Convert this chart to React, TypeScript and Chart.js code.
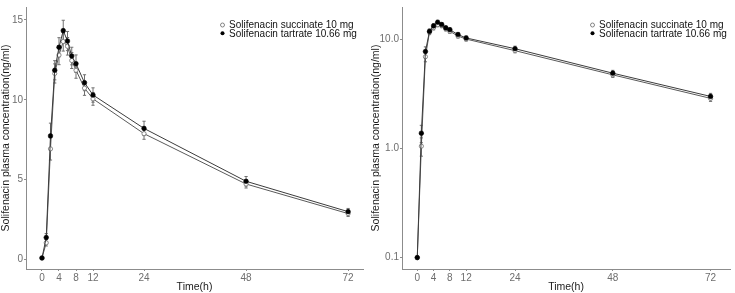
import React, { useEffect, useRef } from 'react';
import { Chart, registerables } from 'chart.js';

Chart.register(...registerables);

const timePoints = [0, 1, 2, 3, 4, 5, 6, 7, 8, 10, 12, 24, 48, 72];
const succinateMean = [0.1, 1.05, 6.93, 11.65, 12.8, 13.65, 13.35, 12.46, 11.85, 10.73, 10.06, 7.88, 4.73, 2.88];
const succinateErr = [0, 0.2, 0.7, 0.6, 0.6, 0.6, 0.55, 0.5, 0.5, 0.45, 0.4, 0.35, 0.25, 0.18];
const tartrateMean = [0.1, 1.38, 7.74, 11.85, 13.29, 14.33, 13.68, 12.74, 12.26, 11.07, 10.3, 8.21, 4.9, 3.0];
const tartrateErr = [0, 0.25, 0.8, 0.6, 0.6, 0.65, 0.6, 0.55, 0.55, 0.5, 0.45, 0.45, 0.3, 0.2];
const seriesNames = ['Solifenacin succinate 10 mg', 'Solifenacin tartrate 10.66 mg'];
const xTicks = [0, 4, 8, 12, 24, 48, 72];
const linearYTicks = [0, 5, 10, 15];
const logYTicks = [0.1, 1, 10];
const logYTickLabels = ['0.1', '1.0', '10.0'];
const xTitle = 'Time(h)';
const yTitle = 'Solifenacin plasma concentration(ng/ml)';

const FONT = "'Liberation Sans', Arial, sans-serif";
const AXIS = '#8c8c8c';
const TICKTXT = '#6e6e6e';

const errorBarPlugin = {
  id: 'errorBars',
  beforeDatasetsDraw(chart: any) {
    const ctx = chart.ctx;
    const xs = chart.scales.x;
    const ys = chart.scales.y;
    ctx.save();
    ctx.strokeStyle = '#707070';
    ctx.lineWidth = 1;
    chart.data.datasets.forEach((ds: any) => {
      const errs: number[] = ds.errors || [];
      ds.data.forEach((p: any, i: number) => {
        const e = errs[i] || 0;
        if (!e) return;
        const px = xs.getPixelForValue(p.x);
        const top = ys.getPixelForValue(p.y + e);
        const bot = ys.getPixelForValue(Math.max(p.y - e, 1e-3));
        ctx.beginPath();
        ctx.moveTo(px, top);
        ctx.lineTo(px, bot);
        ctx.moveTo(px - 1.6, top);
        ctx.lineTo(px + 1.6, top);
        ctx.moveTo(px - 1.6, bot);
        ctx.lineTo(px + 1.6, bot);
        ctx.stroke();
      });
    });
    ctx.restore();
  },
};

const legendPlugin = {
  id: 'customLegend',
  afterDraw(chart: any) {
    const ctx = chart.ctx;
    const mx = 222.5;
    const tx = 229;
    const rows = [25, 33.3];
    ctx.save();
    ctx.font = `10px ${FONT}`;
    ctx.textBaseline = 'middle';
    ctx.textAlign = 'left';
    rows.forEach((y, i) => {
      ctx.beginPath();
      ctx.arc(mx, y, 2, 0, Math.PI * 2);
      if (i === 0) {
        ctx.fillStyle = '#fff';
        ctx.fill();
        ctx.strokeStyle = '#777';
        ctx.lineWidth = 0.9;
        ctx.stroke();
      } else {
        ctx.fillStyle = '#000';
        ctx.fill();
      }
      ctx.fillStyle = '#111';
      ctx.fillText(seriesNames[i], tx, y + 0.5);
    });
    ctx.restore();
  },
};

function buildConfig(logScale: boolean): any {
  const yWidth = logScale ? 32 : 26;
  const padRight = logScale ? 2 : 7;
  const xMin = logScale ? -3.75 : -3.76;
  const xMax = logScale ? 76.8 : 75.5;
  const mk = (vals: number[]) => timePoints.map((t, i) => ({ x: t, y: vals[i] }));
  const yTitleCfg = {
    display: true,
    text: yTitle,
    color: '#1a1a1a',
    font: { family: FONT, size: 10.5 },
    padding: { top: 0, bottom: 0 },
  };
  const tickFont = { family: FONT, size: 10 };
  const gridCfg = { drawOnChartArea: false, drawTicks: true, tickLength: 2, color: AXIS };
  const borderCfg = { display: true, color: AXIS, width: 1 };
  return {
    type: 'line',
    data: {
      datasets: [
        {
          label: seriesNames[0],
          data: mk(succinateMean),
          errors: succinateErr,
          borderColor: '#5a5a5a',
          borderWidth: 1,
          pointRadius: 2.1,
          pointBackgroundColor: '#ffffff',
          pointBorderColor: '#7a7a7a',
          pointBorderWidth: 0.9,
          tension: 0,
          order: 2,
        },
        {
          label: seriesNames[1],
          data: mk(tartrateMean),
          errors: tartrateErr,
          borderColor: '#3c3c3c',
          borderWidth: 1,
          pointRadius: 2.3,
          pointBackgroundColor: '#000000',
          pointBorderColor: '#000000',
          pointBorderWidth: 0.6,
          tension: 0,
          order: 1,
        },
      ],
    },
    options: {
      animation: false,
      responsive: false,
      maintainAspectRatio: false,
      layout: { padding: { left: 0, right: padRight, top: 0, bottom: 0 } },
      plugins: { legend: { display: false }, tooltip: { enabled: false } },
      scales: {
        x: {
          type: 'linear',
          min: xMin,
          max: xMax,
          afterBuildTicks: (s: any) => {
            s.ticks = xTicks.map((v) => ({ value: v }));
          },
          afterFit: (s: any) => {
            s.height = 24;
          },
          ticks: {
            autoSkip: false,
            maxRotation: 0,
            color: TICKTXT,
            font: tickFont,
            padding: 1,
          },
          grid: gridCfg,
          border: borderCfg,
          title: {
            display: true,
            text: xTitle,
            color: '#1a1a1a',
            font: { family: FONT, size: 10.5 },
            padding: { top: 0, bottom: 0 },
          },
        },
        y: logScale
          ? {
              type: 'logarithmic',
              min: 0.0786,
              max: 19.8,
              afterBuildTicks: (s: any) => {
                s.ticks = logYTicks.map((v) => ({ value: v }));
              },
              afterFit: (s: any) => {
                s.width = yWidth;
              },
              ticks: {
                autoSkip: false,
                color: TICKTXT,
                font: tickFont,
                padding: 1,
                callback: (v: any) => {
                  const i = logYTicks.indexOf(Number(v));
                  return i >= 0 ? logYTickLabels[i] : '';
                },
              },
              grid: gridCfg,
              border: borderCfg,
              title: yTitleCfg,
            }
          : {
              type: 'linear',
              min: -0.59,
              max: 15.81,
              afterBuildTicks: (s: any) => {
                s.ticks = linearYTicks.map((v) => ({ value: v }));
              },
              afterFit: (s: any) => {
                s.width = yWidth;
              },
              ticks: {
                autoSkip: false,
                color: TICKTXT,
                font: tickFont,
                padding: 1,
              },
              grid: gridCfg,
              border: borderCfg,
              title: yTitleCfg,
            },
      },
    },
    plugins: [errorBarPlugin, legendPlugin],
  };
}

function Panel({ logScale, left, width }: { logScale: boolean; left: number; width: number }) {
  const ref = useRef<HTMLCanvasElement | null>(null);
  useEffect(() => {
    if (!ref.current) return;
    const chart = new Chart(ref.current, buildConfig(logScale));
    return () => chart.destroy();
  }, [logScale]);
  return (
    <canvas
      ref={ref}
      width={width}
      height={293}
      style={{ position: 'absolute', left, top: 0, width, height: 293 }}
    />
  );
}

export default function App() {
  return (
    <div style={{ position: 'absolute', left: 0, top: 0, width: 735, height: 293, background: '#fff' }}>
      <Panel logScale={false} left={0} width={370} />
      <Panel logScale={true} left={370} width={365} />
    </div>
  );
}
